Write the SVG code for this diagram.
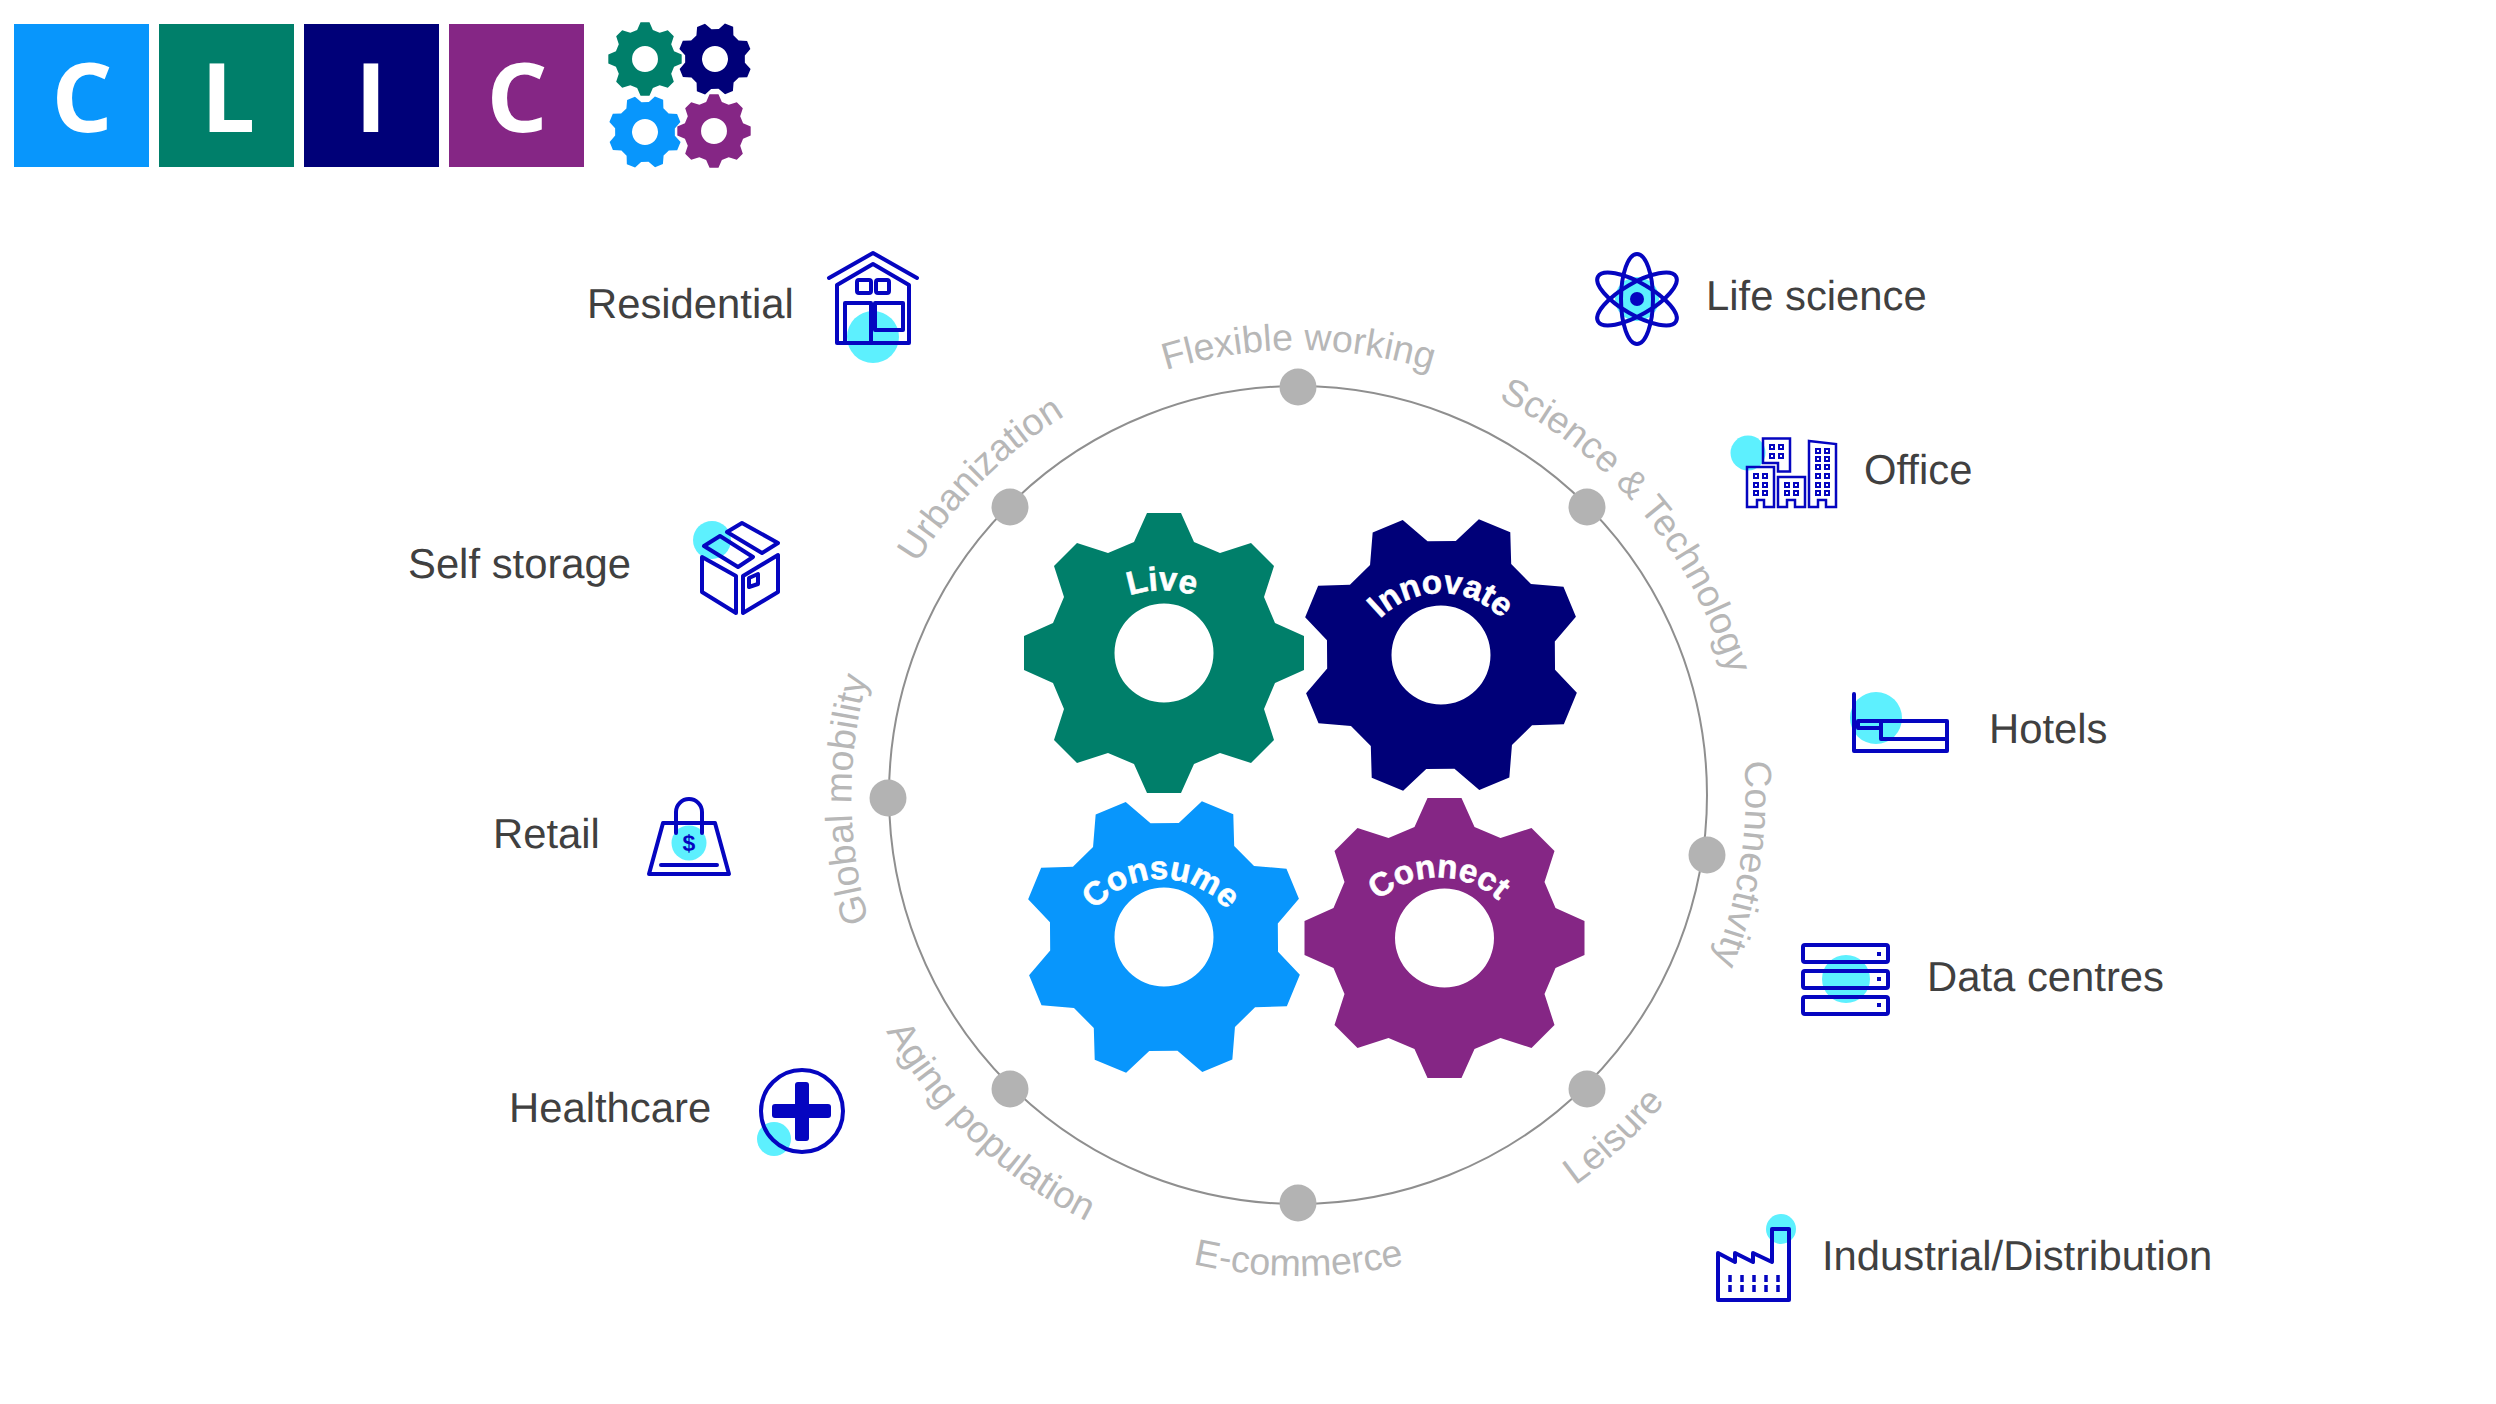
<svg xmlns="http://www.w3.org/2000/svg" width="2496" height="1404" viewBox="0 0 2496 1404">
<style>
text{font-family:"Liberation Sans",Arial,sans-serif;text-rendering:geometricPrecision}
.lbl{font-size:41.8px;fill:#404040}
.drv{font-size:37.6px;fill:#b7b7b7}
.gt{font-size:33px;font-weight:700;fill:#fff;stroke:#fff;stroke-width:.6}
.logo{font-family:"Open Sans","Liberation Sans",sans-serif;font-size:96px;font-weight:700;fill:#fff;text-anchor:middle}
.ic{fill:none;stroke:#0505c0;stroke-width:4;stroke-linejoin:round;stroke-linecap:round}
.th{fill:none;stroke:#0505c0;stroke-width:2.5;stroke-linejoin:miter}
.cy{fill:#5df0fe}
.sol{fill:#0505c0}
.dot{fill:#b3b3b3}
</style>
<defs>
<path id="gear" fill-rule="evenodd" d="M17-140L30-111L56-100L87-110L110-87L100-56L111-30L140-17L140 17L111 30L100 56L110 87L87 110L56 100L30 111L17 140L-17 140L-30 111L-56 100L-87 110L-110 87L-100 56L-111 30L-140 17L-140-17L-111-30L-100-56L-110-87L-87-110L-56-100L-30-111L-17-140ZM49.500 0A49.500 49.500 0 1 0-49.500 0A49.500 49.500 0 1 0 49.500 0Z"/>
<path id="a-flex" d="M911.4 573.5A447 447 0 0 1 1685.6 573.5"/>
<path id="a-urb" d="M866.7 912.7A447 447 0 0 1 1414.2 365.200"/>
<path id="a-glob" d="M1077 1185.3A447 447 0 0 1 1073 411.100"/>
<path id="a-sci" d="M1222.4 358.5A447 447 0 0 1 1718 953.4"/>
<path id="a-con" d="M1578.6 446.6A447 447 0 0 1 1460.1 1211.7"/>
<path id="a-eco" d="M883.7 1036.5A479 479 0 0 0 1713.3 1036.5"/>
<path id="a-age" d="M836.7 683.7A477 477 0 0 0 1436 1252.4"/>
<path id="a-lei" d="M1156.7 1252.1A476 476 0 0 0 1762.3 689.4"/>
<path id="g-live" d="M1072 651A97 97 0 0 1 1252 651"/>
<path id="g-inn" d="M1357 665.2A85 85 0 0 1 1525 665.2"/>
<path id="g-cons" d="M1077 951A85 85 0 0 1 1245 951"/>
<path id="g-conn" d="M1353.5 938A90 90 0 0 1 1523.5 938"/>
</defs>
<rect width="2496" height="1404" fill="#fff"/>
<g id="logo">
<rect x="14" y="24" width="135" height="143" fill="#0896fc"/>
<rect x="159" y="24" width="135" height="143" fill="#007f6a"/>
<rect x="304" y="24" width="135" height="143" fill="#000078"/>
<rect x="449" y="24" width="135" height="143" fill="#852685"/>
<text class="logo" x="82" y="132">C</text>
<text class="logo" x="228" y="132">L</text>
<text class="logo" x="371" y="132">I</text>
<text class="logo" x="517" y="132">C</text>
<use href="#gear" transform="translate(645 59) scale(.262)" fill="#007f6a"/>
<use href="#gear" transform="translate(715 59) rotate(22.5) scale(.262)" fill="#000078"/>
<use href="#gear" transform="translate(645 132) rotate(22.5) scale(.262)" fill="#0896fc"/>
<use href="#gear" transform="translate(714 131) scale(.262)" fill="#852685"/>
</g>
<g id="connectors">
<circle cx="1298" cy="795" r="409" fill="none" stroke="#8f8f8f" stroke-width="2"/>
</g>
<g id="drivers">
<circle class="dot" cx="1298" cy="387" r="18.500"/>
<circle class="dot" cx="1587" cy="507" r="18.500"/>
<circle class="dot" cx="1707" cy="855" r="18.500"/>
<circle class="dot" cx="1587" cy="1089" r="18.500"/>
<circle class="dot" cx="1298" cy="1203" r="18.500"/>
<circle class="dot" cx="1010" cy="1089" r="18.500"/>
<circle class="dot" cx="888" cy="798" r="18.500"/>
<circle class="dot" cx="1010" cy="507" r="18.500"/>
<text class="drv" text-anchor="middle"><textPath href="#a-flex" startOffset="50%">Flexible working</textPath></text>
<text class="drv" text-anchor="middle"><textPath href="#a-urb" startOffset="50%">Urbanization</textPath></text>
<text class="drv" text-anchor="middle"><textPath href="#a-glob" startOffset="50%">Global mobility</textPath></text>
<text class="drv" text-anchor="middle"><textPath href="#a-sci" startOffset="50%">Science &amp; Technology</textPath></text>
<text class="drv" text-anchor="middle"><textPath href="#a-con" startOffset="50%">Connectivity</textPath></text>
<text class="drv" text-anchor="middle"><textPath href="#a-eco" startOffset="50%">E-commerce</textPath></text>
<text class="drv" text-anchor="middle"><textPath href="#a-age" startOffset="50%">Aging population</textPath></text>
<text class="drv" text-anchor="middle"><textPath href="#a-lei" startOffset="50%">Leisure</textPath></text>
</g>
<g id="gear-live"><use href="#gear" transform="translate(1164 653)" fill="#007f6a"/><text class="gt" text-anchor="middle"><textPath href="#g-live" startOffset="50%">Live</textPath></text></g>
<g id="gear-innovate"><use href="#gear" transform="translate(1441 655) rotate(22.5)" fill="#000078"/><text class="gt" text-anchor="middle"><textPath href="#g-inn" startOffset="50%">Innovate</textPath></text></g>
<g id="gear-consume"><use href="#gear" transform="translate(1164 937) rotate(22.5)" fill="#0896fc"/><text class="gt" text-anchor="middle"><textPath href="#g-cons" startOffset="50%">Consume</textPath></text></g>
<g id="gear-connect"><use href="#gear" transform="translate(1444.5 938)" fill="#852685"/><text class="gt" text-anchor="middle"><textPath href="#g-conn" startOffset="50%">Connect</textPath></text></g>
<g id="residential">
<circle class="cy" cx="873" cy="337" r="26"/>
<path class="ic" d="M829 278L873 253L917 278M837 285L873 264L909 285V343H837ZM845 343V303H871V343M875 303H903V330H875Z"/>
<rect class="ic" x="857" y="280" width="14" height="13" rx="2"/><rect class="ic" x="876" y="280" width="13" height="13" rx="2"/>
<text class="lbl" x="587" y="318">Residential</text>
</g>
<g id="self-storage">
<circle class="cy" cx="712" cy="540" r="19"/>
<path class="ic" d="M704 546L720 536L753 557L738 567ZM727 532L742 523L778 543L762 553ZM702 557L736 576V613L702 592ZM743 576L778 555V592L743 613ZM749 578L758 574V584L749 587Z"/>
<text class="lbl" x="408" y="578">Self storage</text>
</g>
<g id="retail">
<circle class="cy" cx="689" cy="843" r="17.500"/>
<path class="ic" d="M663 823H715L729 874H649ZM661 865H717M676 833V812A13 13 0 0 1 702 812V833"/>
<text x="689" y="851" text-anchor="middle" font-size="23" font-weight="700" fill="#0505c0">$</text>
<text class="lbl" x="493" y="848">Retail</text>
</g>
<g id="healthcare">
<circle class="cy" cx="774" cy="1139" r="17"/>
<circle class="ic" cx="802" cy="1111" r="41"/>
<rect class="sol" x="772" y="1104" width="59" height="14" rx="3"/><rect class="sol" x="795" y="1082" width="14" height="59" rx="3"/>
<text class="lbl" x="509" y="1122">Healthcare</text>
</g>
<g id="life-science">
<circle class="cy" cx="1637" cy="299" r="22"/>
<g class="ic"><ellipse cx="1637" cy="299" rx="16" ry="45"/><ellipse cx="1637" cy="299" rx="16" ry="45" transform="rotate(60 1637 299)"/><ellipse cx="1637" cy="299" rx="16" ry="45" transform="rotate(-60 1637 299)"/></g>
<circle class="sol" cx="1637" cy="299" r="7"/>
<text class="lbl" x="1706" y="310">Life science</text>
</g>
<g id="office">
<circle class="cy" cx="1748" cy="453" r="17.500"/>
<path class="th" d="M1763 463V438.500H1790V471.500H1778V463ZM1747 467H1774V507H1764V500H1757V507H1747ZM1778 477H1805V507H1795V500H1787V507H1778ZM1809 441L1836 444V507H1826V500H1818V507H1809Z"/>
<path class="th" style="stroke-width:2" d="M1754 474h4v4h-4zM1763 474h4v4h-4zM1754 483h4v4h-4zM1763 483h4v4h-4zM1754 491h4v4h-4zM1763 491h4v4h-4zM1770 445h4v4h-4zM1779 445h4v4h-4zM1770 454h4v4h-4zM1779 454h4v4h-4zM1785 483h4v4h-4zM1794 483h4v4h-4zM1785 491h4v4h-4zM1794 491h4v4h-4zM1816 449h4v4h-4zM1825 449h4v4h-4zM1816 457h4v4h-4zM1825 457h4v4h-4zM1816 465h4v4h-4zM1825 465h4v4h-4zM1816 474h4v4h-4zM1825 474h4v4h-4zM1816 483h4v4h-4zM1825 483h4v4h-4zM1816 491h4v4h-4zM1825 491h4v4h-4z"/>
<text class="lbl" x="1864" y="484">Office</text>
</g>
<g id="hotels">
<circle class="cy" cx="1876" cy="718" r="26"/>
<path class="ic" d="M1854 694V751H1947V721H1858V728H1881M1881 721V739H1947"/>
<text class="lbl" x="1989" y="743">Hotels</text>
</g>
<g id="data-centres">
<circle class="cy" cx="1846" cy="979" r="24"/>
<rect class="ic" x="1803" y="945" width="85" height="17" rx="2"/><rect class="ic" x="1803" y="971" width="85" height="17" rx="2"/><rect class="ic" x="1803" y="997" width="85" height="17" rx="2"/>
<rect class="sol" x="1877" y="952" width="4" height="4"/><rect class="sol" x="1877" y="977" width="4" height="4"/><rect class="sol" x="1877" y="1003" width="4" height="4"/>
<text class="lbl" x="1927" y="991">Data centres</text>
</g>
<g id="industrial">
<circle class="cy" cx="1781" cy="1229" r="15"/>
<path class="ic" d="M1718 1253L1735 1262V1253L1753 1262V1253L1772 1262V1229H1789V1300H1718Z"/>
<path d="M1730 1275v7M1742 1275v7M1754 1275v7M1766 1275v7M1778 1275v7M1730 1285v7M1742 1285v7M1754 1285v7M1766 1285v7M1778 1285v7" stroke="#0505c0" stroke-width="3.500" fill="none"/>
<text class="lbl" x="1822" y="1270">Industrial/Distribution</text>
</g>
</svg>
